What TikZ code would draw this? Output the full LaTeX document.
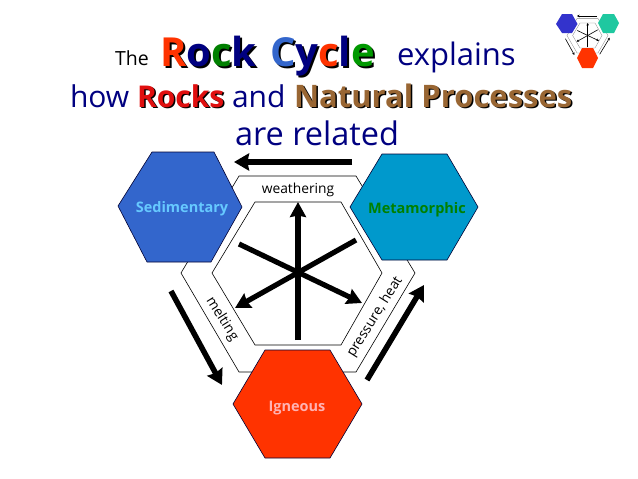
\documentclass[tikz,border=0pt]{standalone}
\usepackage{fontspec}
\setmainfont{Open Sans}
\usetikzlibrary{arrows.meta}
\definecolor{title color}{HTML}{000080}
\definecolor{rocks color}{HTML}{E00F0F}
\definecolor{natural color}{HTML}{996633}
\definecolor{sedimentary color}{HTML}{3366CC}
\definecolor{metamorphic color}{HTML}{0099CC}
\definecolor{igneous color}{HTML}{FF3300}
\definecolor{icon blue}{HTML}{3333CC}
\definecolor{icon teal}{HTML}{1FC8A0}
\tikzset{
    x={1pt},
    y={-1pt},
    word/.style={
        anchor=base west,
        inner sep=0pt,
        outer sep=0pt,
    },
    title word/.style={
        word,
        font={\fontsize{#1}{36}\selectfont},
        text=title color,
    },
    title word/.default={30},
    big word/.style={
        word,
        font={\fontsize{#1}{36}\selectfont\bfseries},
    },
    rock hexagon/.style={
        fill={#1},
        draw=black!80!blue,
        line width={0.6pt},
    },
    rock label/.style={
        font={\fontsize{14.5}{18}\selectfont\bfseries},
        text={#1},
    },
    process label/.style={
        font={\fontsize{13.8}{16}\selectfont},
        inner sep=0pt,
    },
    ring/.style={
        draw=black,
        line width={0.6pt},
    },
    cycle arrow/.style={
        draw=black,
        line width={5.5pt},
        -{Stealth[length=15pt,width=17pt,inset=1.5pt]},
    },
    star arrow/.style={
        draw=black,
        line width={5.2pt},
        -{Stealth[length=15pt,width=16pt,inset=1.5pt]},
    },
    icon ring/.style={
        draw=black!50,
        line width={0.3pt},
    },
    icon arrow/.style={
        draw=black,
        line width={0.6pt},
        -{Stealth[length=2.5pt,width=2.5pt]},
    },
}
\newcommand{\colorword}[2]{\textcolor{#1}{#2}}
\begin{document}
\begin{tikzpicture}
\useasboundingbox (0,0) rectangle (638,479);
% title
\node[title word=19.5, text=black] (the) at (115,65) {The};
\node[big word=40, text=black] (rock shadow) at (162,68.5) {Rock};
\node[big word=40] (rock) at (160,66.5) {\colorword{igneous color}{R}\colorword{blue!50!black}{o}\colorword{green!50!black}{c}\colorword{blue!50!black}{k}};
\node[big word=40, text=black] (cycle shadow) at (272,68.5) {Cycle};
\node[big word=40] (cycle) at (270,66.5) {\colorword{sedimentary color}{C}\colorword{blue!50!black}{y}\colorword{igneous color}{c}\colorword{blue!50!black}{l}\colorword{green!60!black}{e}};
\node[title word=31] (explains) at (397,65) {explains};
\node[title word] (how) at (70,107) {how};
\node[big word=30, text=black] (rocks shadow) at (138.5,108.5) {Rocks};
\node[big word=30, text=rocks color] (rocks) at (137,107) {Rocks};
\node[title word] (and) at (232,107) {and};
\node[big word=31, text=black] (natural shadow) at (295.5,108.5) {Natural Processes};
\node[big word=31, text=natural color] (natural) at (294,107) {Natural Processes};
\node[title word=32.5] (related) at (235,145) {are related};
% rings
\path[ring] (239,176) -- (356,176) -- (415,273) -- (356,372) -- (239,372) -- (181,273) -- cycle;
\path[ring, fill=white] (255,202) -- (341,202) -- (382,273) -- (341,345) -- (255,345) -- (212,273) -- cycle;
% rocks
\path[rock hexagon={sedimentary color}] (118,206) -- (152,152) -- (214,152) -- (242,207) -- (211,262) -- (147,262) -- cycle;
\path[rock hexagon={metamorphic color}] (350,207) -- (382,154) -- (447,154) -- (478,207) -- (447,260) -- (382,260) -- cycle;
\path[rock hexagon={igneous color}] (233,404) -- (265,350) -- (330,350) -- (362,404) -- (330,458) -- (265,458) -- cycle;
\node[rock label={blue!35!cyan!60!white}] (sedimentary) at (182,209) {Sedimentary};
\node[rock label={green!50!black}] (metamorphic) at (417,210) {Metamorphic};
\node[rock label={red!30!white}] (igneous) at (297,408) {Igneous};
% process labels
\node[process label] (weathering) at (298,190) {weathering};
\node[process label, rotate=-58] (melting) at (222,319) {melting};
\node[process label, rotate=58] (pressure) at (375,317) {pressure, heat};
% arrow ends
\coordinate (weathering tail) at (352,162);
\coordinate (weathering tip) at (234,162);
\coordinate (melting tail) at (171,291);
\coordinate (melting tip) at (222,385);
\coordinate (pressure tail) at (367,380);
\coordinate (pressure tip) at (424,285);
\coordinate (up tail) at (298,340);
\coordinate (up tip) at (298,202);
\coordinate (left tail) at (356,240);
\coordinate (left tip) at (235,308);
\coordinate (right tail) at (239,244);
\coordinate (right tip) at (362,303);
% arrows
\draw[cycle arrow] (weathering tail) -- (weathering tip);
\draw[cycle arrow] (melting tail) -- (melting tip);
\draw[cycle arrow] (pressure tail) -- (pressure tip);
\draw[star arrow] (up tail) -- (up tip);
\draw[star arrow] (left tail) -- (left tip);
\draw[star arrow] (right tail) -- (right tip);
% icon
\path[icon ring] (577,18.6) -- (598,18.6) -- (608,35.5) -- (598,52.9) -- (577,52.9) -- (567,35.5) -- cycle;
\path[icon ring] (580,23) -- (595,23) -- (602,35.5) -- (595,48) -- (580,48) -- (572.6,35.5) -- cycle;
\path[fill=icon blue] (556,24) -- (562,14) -- (572,14) -- (577.5,24) -- (572,33) -- (562,33) -- cycle;
\path[fill=icon teal] (598,23) -- (603,14) -- (614,14) -- (619,23) -- (614,33) -- (603,33) -- cycle;
\path[fill=igneous color] (577,58) -- (582,48) -- (593,48) -- (598,58) -- (593,68) -- (582,68) -- cycle;
\draw[icon arrow] (597,16) -- (577,16);
\draw[icon arrow] (565.4,38.7) -- (574.4,55);
\draw[icon arrow] (599.7,54.3) -- (609.7,37.7);
\draw[icon arrow] (587.7,47.3) -- (587.7,23);
\draw[icon arrow] (597.8,29.8) -- (576.6,41.7);
\draw[icon arrow] (577.3,30.5) -- (598.9,40.8);
\end{tikzpicture}
\end{document}
